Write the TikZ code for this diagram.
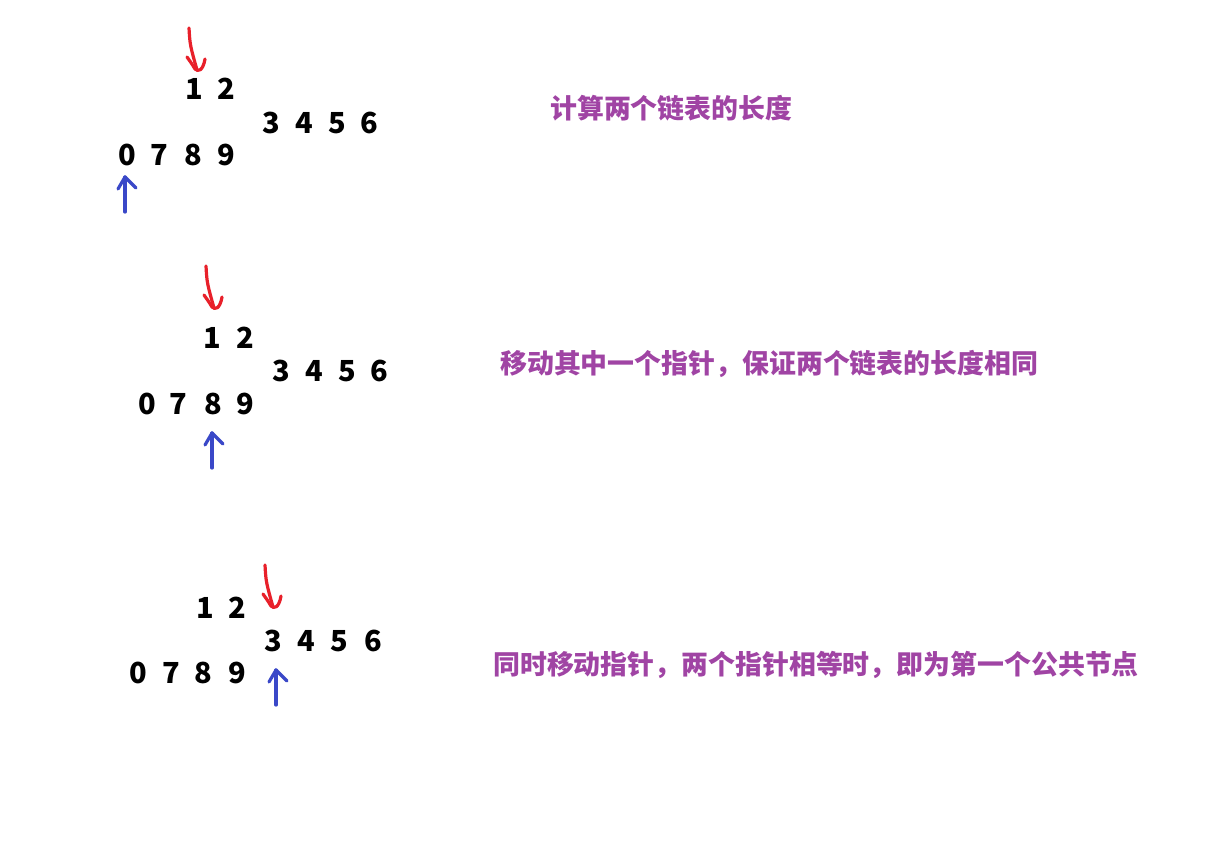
\documentclass[tikz,border=0pt]{standalone}
\usepackage{fontspec}
\newfontfamily\cjk{Noto Sans CJK SC}
\definecolor{ptext}{HTML}{A044A4}
\definecolor{redc}{HTML}{E8202A}
\definecolor{bluec}{HTML}{3A48C8}
\begin{document}
\begin{tikzpicture}[x=1pt,y=-1pt,
  num/.style={font=\cjk\bfseries\fontsize{29}{29}\selectfont, inner sep=0pt, text=black},
  captext/.style={font=\cjk\bfseries\fontsize{26.9}{26.9}\selectfont, text=ptext, anchor=west, inner sep=0pt},
  stroke/.style={line width=3.2pt, line cap=round, line join=round},
  redptr/.pic={
    \draw[stroke, redc] (-8,-42) .. controls (-7,-25) .. (0,0);
    \draw[stroke, redc] (-10,-13) .. controls (-5,-6) .. (-2,-1) .. controls (1,2) and (6,1) .. (8,-11);
  },
  blueptr/.pic={
    \draw[stroke, bluec] (0,35) -- (0,0);
    \draw[stroke, bluec] (-7,12) -- (0,0) -- (11,11);
  }
]
\useasboundingbox[fill=white] (0,0) rectangle (1220,844);

% ---------- section 1 ----------
\node[num] (s1n1) at (194,89) {1};
\node[num] (s1n2) at (226,89) {2};
\node[num] (s1n3) at (271,123) {3};
\node[num] (s1n4) at (304,123) {4};
\node[num] (s1n5) at (337,123) {5};
\node[num] (s1n6) at (369,123) {6};
\node[num] (s1n0) at (127,155) {0};
\node[num] (s1n7) at (159,155) {7};
\node[num] (s1n8) at (193,155) {8};
\node[num] (s1n9) at (226,155) {9};
\coordinate (s1red) at (197,70);
\coordinate (s1blue) at (125,177);
\pic at (s1red) {redptr};
\pic at (s1blue) {blueptr};
\node[captext] (t1) at (550,108) {计算两个链表的长度};

% ---------- section 2 ----------
\node[num] (s2n1) at (212,338) {1};
\node[num] (s2n2) at (245,338) {2};
\node[num] (s2n3) at (281,371) {3};
\node[num] (s2n4) at (314,371) {4};
\node[num] (s2n5) at (347,371) {5};
\node[num] (s2n6) at (379,371) {6};
\node[num] (s2n0) at (147,404) {0};
\node[num] (s2n7) at (178,404) {7};
\node[num] (s2n8) at (213,404) {8};
\node[num] (s2n9) at (245,404) {9};
\coordinate (s2red) at (214,308);
\coordinate (s2blue) at (212,433);
\pic at (s2red) {redptr};
\pic at (s2blue) {blueptr};
\node[captext] (t2) at (500,364) {移动其中一个指针，保证两个链表的长度相同};

% ---------- section 3 ----------
\node[num] (s3n1) at (205,608) {1};
\node[num] (s3n2) at (237,608) {2};
\node[num] (s3n3) at (273,641) {3};
\node[num] (s3n4) at (306,641) {4};
\node[num] (s3n5) at (339,641) {5};
\node[num] (s3n6) at (373,641) {6};
\node[num] (s3n0) at (138,673) {0};
\node[num] (s3n7) at (171,673) {7};
\node[num] (s3n8) at (203,673) {8};
\node[num] (s3n9) at (237,673) {9};
\coordinate (s3red) at (273,607);
\coordinate (s3blue) at (276,670);
\pic at (s3red) {redptr};
\pic at (s3blue) {blueptr};
\node[captext] (t3) at (493,665) {同时移动指针，两个指针相等时，即为第一个公共节点};
\end{tikzpicture}
\end{document}
